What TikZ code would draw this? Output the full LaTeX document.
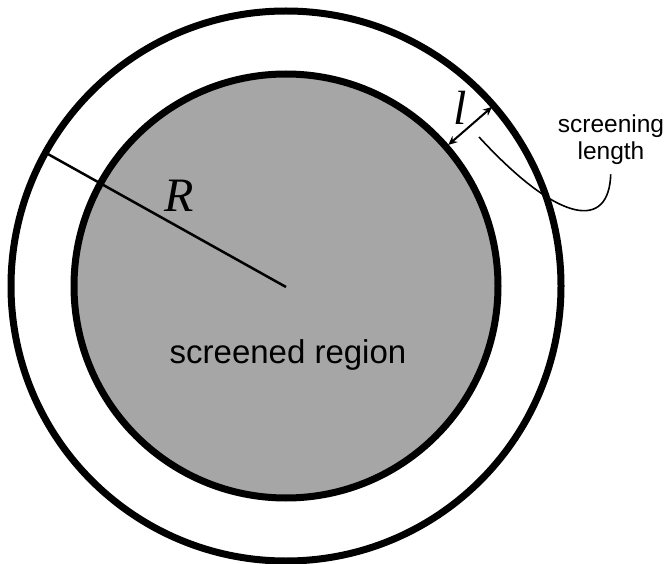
\documentclass[tikz,border=0pt]{standalone}
\usepackage{fontspec}
\setmainfont{Liberation Serif}
\setsansfont{Liberation Sans}
\usetikzlibrary{arrows.meta}
\definecolor{shade}{gray}{0.65}

\begin{document}
\begin{tikzpicture}[x=1pt,y=-1pt,
  >={Stealth[length=9pt,width=8pt]},
  ring/.style={draw,circle,line width=7pt,outer sep=0pt,inner sep=0pt},
  sym/.style={font=\fontsize{48}{50}\selectfont\itshape,inner sep=0pt,anchor=base},
  words/.style={font=\sffamily\fontsize{33}{36}\selectfont,inner sep=0pt,anchor=base}]
\useasboundingbox (0,0) rectangle (667,564);
\node[ring,minimum size=550pt] (out) at (286,286) {};
\node[ring,fill=shade,minimum size=424pt] (in) at (286,286) {};
\coordinate (o) at (286,287);
\draw[line width=2.5pt] (o) -- (out.151.8);
\draw[<->,line width=2pt,shorten <=3pt,shorten >=2pt] (in.41) -- (out.41);
\node[sym] (ell) at (460,125) {l};
\node[sym] (rad) at (179,211.5) {R};
\node[words] (reg) at (288,363) {screened region};
\node[align=center,font=\sffamily\fontsize{24.5}{27}\selectfont,inner sep=0pt,anchor=base] (len) at (611,160) {screening\\length};
\coordinate (end) at (479,137);
\draw[line width=1.6pt,shorten <=9pt] (len.south) .. controls (609,230) and (560,225) .. (end);
\end{tikzpicture}
\end{document}
